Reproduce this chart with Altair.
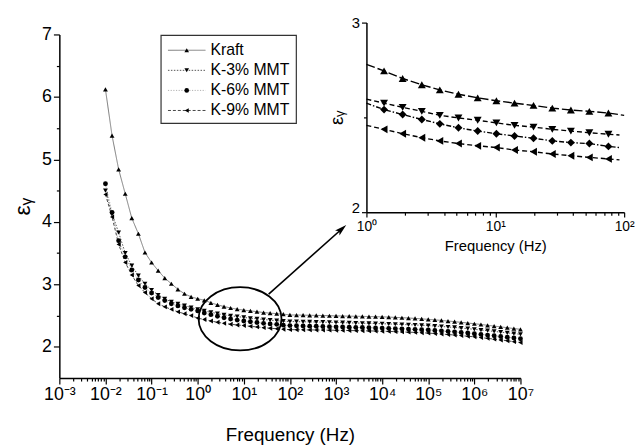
import json
import altair as alt
import pandas as pd

SERIES = ["Kraft", "K-3% MMT", "K-6% MMT", "K-9% MMT"]

# main plot: log10 of frequency (Hz)
LOG_FREQ = [-2.0, -1.857, -1.714, -1.571, -1.429, -1.286, -1.143, -1.0,
            -0.857, -0.714, -0.571, -0.429, -0.286, -0.143, 0.0,
            0.143, 0.286, 0.429, 0.571, 0.714, 0.857, 1.0,
            1.143, 1.286, 1.429, 1.571, 1.714, 1.857, 2.0,
            2.143, 2.286, 2.429, 2.571, 2.714, 2.857, 3.0,
            3.143, 3.286, 3.429, 3.571, 3.714, 3.857, 4.0,
            4.143, 4.286, 4.429, 4.571, 4.714, 4.857, 5.0,
            5.143, 5.286, 5.429, 5.571, 5.714, 5.857, 6.0,
            6.143, 6.286, 6.429, 6.571, 6.714, 6.857, 7.0]

KRAFT = [6.12, 5.38, 4.84, 4.45, 4.06, 3.81, 3.51, 3.35, 3.22, 3.10, 3.01, 2.92, 2.85, 2.80, 2.77,
         2.745, 2.705, 2.672, 2.645, 2.622, 2.603, 2.588, 2.575, 2.563, 2.549, 2.539, 2.532, 2.523, 2.511,
         2.509, 2.507, 2.505, 2.503, 2.501, 2.498, 2.495,
         2.493, 2.491, 2.489, 2.487, 2.485, 2.483, 2.480,
         2.476, 2.471, 2.466, 2.461, 2.455, 2.448, 2.440,
         2.432, 2.423, 2.413, 2.403, 2.392, 2.381, 2.370,
         2.358, 2.345, 2.332, 2.319, 2.306, 2.293, 2.280]
K3 = [4.50, 4.13, 3.83, 3.50, 3.30, 3.14, 3.01, 2.91, 2.83, 2.77, 2.72, 2.69, 2.66, 2.63, 2.60,
      2.575, 2.553, 2.532, 2.511, 2.497, 2.485, 2.471, 2.458, 2.449, 2.437, 2.428, 2.419, 2.411, 2.405,
      2.403, 2.401, 2.399, 2.397, 2.395, 2.392, 2.390,
      2.387, 2.384, 2.381, 2.378, 2.376, 2.373, 2.370,
      2.366, 2.362, 2.358, 2.354, 2.350, 2.345, 2.340,
      2.333, 2.326, 2.318, 2.310, 2.301, 2.291, 2.280,
      2.269, 2.258, 2.247, 2.235, 2.224, 2.212, 2.200]
K6 = [4.61, 4.15, 3.70, 3.44, 3.23, 3.07, 2.95, 2.86, 2.79, 2.74, 2.69, 2.655, 2.625, 2.60, 2.575,
      2.541, 2.515, 2.489, 2.466, 2.445, 2.428, 2.414, 2.402, 2.390, 2.376, 2.367, 2.360, 2.347, 2.340,
      2.337, 2.334, 2.331, 2.329, 2.326, 2.323, 2.320,
      2.317, 2.314, 2.311, 2.309, 2.306, 2.303, 2.300,
      2.296, 2.292, 2.288, 2.284, 2.280, 2.275, 2.270,
      2.263, 2.256, 2.248, 2.240, 2.231, 2.221, 2.210,
      2.199, 2.188, 2.177, 2.165, 2.154, 2.142, 2.130]
K9 = [4.44, 4.08, 3.64, 3.35, 3.15, 2.98, 2.87, 2.77, 2.69, 2.64, 2.60, 2.56, 2.53, 2.50, 2.46,
      2.437, 2.414, 2.393, 2.376, 2.362, 2.350, 2.341, 2.328, 2.319, 2.307, 2.298, 2.289, 2.281, 2.275,
      2.274, 2.272, 2.271, 2.270, 2.268, 2.267, 2.265,
      2.263, 2.261, 2.259, 2.257, 2.255, 2.253, 2.250,
      2.247, 2.243, 2.239, 2.235, 2.231, 2.226, 2.220,
      2.213, 2.205, 2.197, 2.189, 2.180, 2.170, 2.160,
      2.148, 2.136, 2.123, 2.110, 2.097, 2.083, 2.070]

# inset (1 - 100 Hz)
INSET_FREQ = [1.37, 1.91, 2.69, 3.71, 5.18, 7.3, 10.2, 14.1, 19.8, 27.7, 38.6, 53.7, 75.5]
INSET_KRAFT = [2.745, 2.705, 2.672, 2.645, 2.622, 2.603, 2.588, 2.575, 2.563, 2.549, 2.539, 2.532, 2.523]
INSET_K3 = [2.575, 2.553, 2.532, 2.511, 2.497, 2.485, 2.471, 2.458, 2.449, 2.437, 2.428, 2.419, 2.411]
INSET_K6 = [2.541, 2.515, 2.489, 2.466, 2.445, 2.428, 2.414, 2.402, 2.390, 2.376, 2.367, 2.362, 2.347]
INSET_K9 = [2.437, 2.414, 2.393, 2.376, 2.362, 2.350, 2.341, 2.328, 2.319, 2.307, 2.298, 2.289, 2.281]
INSET_LINE_START = [2.780, 2.596, 2.575, 2.458]   # line value at 1 Hz
INSET_LINE_END_F = [100, 92, 92, 92]
INSET_LINE_END = [2.511, 2.407, 2.341, 2.276]

MAIN_X_LABELS = ["10\u207b\u00b3", "10\u207b\u00b2", "10\u207b\u00b9", "10\u2070", "10\u00b9",
                 "10\u00b2", "10\u00b3", "10\u2074", "10\u2075", "10\u2076", "10\u2077"]
INSET_X_LABELS = ["10\u2070", "10\u00b9", "10\u00b2"]
Y_TITLE = "\u03b5\u1d67"
FONT = "Liberation Sans"

# ---------- data frames ----------
main_vals = [KRAFT, K3, K6, K9]
rows = []
for s, vals in zip(SERIES, main_vals):
    for i, (lf, v) in enumerate(zip(LOG_FREQ, vals)):
        rows.append({"f": 10 ** lf, "eps": v, "series": s, "i": i})
main_df = pd.DataFrame(rows)

inset_vals = [INSET_KRAFT, INSET_K3, INSET_K6, INSET_K9]
pt_rows, ln_rows = [], []
for j, (s, vals) in enumerate(zip(SERIES, inset_vals)):
    ln_rows.append({"f": 1.0, "eps": INSET_LINE_START[j], "series": s, "i": 0})
    for i, (f, v) in enumerate(zip(INSET_FREQ, vals)):
        pt_rows.append({"f": f, "eps": v, "series": s})
        ln_rows.append({"f": f, "eps": v, "series": s, "i": i + 1})
    ln_rows.append({"f": INSET_LINE_END_F[j], "eps": INSET_LINE_END[j], "series": s, "i": 99})
inset_pts = pd.DataFrame(pt_rows)
inset_lns = pd.DataFrame(ln_rows)

legend_df = pd.DataFrame({"series": SERIES, "row": [0, 1, 2, 3]})

# ---------- scales / axes ----------
MAJ = "abs(log(datum.value)/LN10 - round(log(datum.value)/LN10)) < 0.01"
INT = "abs(datum.value - round(datum.value)) < 0.01"

main_x_ticks = []
for k in range(-3, 7):
    for m in range(1, 10):
        main_x_ticks.append(float(f"{m}e{k}"))
main_x_ticks.append(1e7)

inset_x_ticks = [float(f"{m}e{k}") for k in range(0, 2) for m in range(1, 10)] + [100.0]

xs_main = alt.Scale(type="log", domain=[1e-3, 1e7], range=[0, 467])
ys_main = alt.Scale(domain=[1.5, 7], range=[370, 22])
xs_in = alt.Scale(type="log", domain=[1, 100], range=[311, 572])
ys_in = alt.Scale(domain=[2, 3], range=[202, 10])

ax_main_x = alt.Axis(
    orient="bottom", values=main_x_ticks, title="Frequency (Hz)",
    labelExpr=f"{MAJ} ? {json.dumps(MAIN_X_LABELS, ensure_ascii=False)}[round(log(datum.value)/LN10) + 3] : ''",
    tickSize={"condition": {"test": MAJ, "value": 6}, "value": 3},
    labelFontSize=18, titleFontSize=19, labelPadding=2, titlePadding=22,
    labelOverlap=False, labelFlush=False, grid=False)
ax_main_y = alt.Axis(
    orient="left", values=[2, 2.5, 3, 3.5, 4, 4.5, 5, 5.5, 6, 6.5, 7], title=Y_TITLE,
    labelExpr=f"{INT} ? format(datum.value, 'd') : ''",
    tickSize={"condition": {"test": INT, "value": 6}, "value": 3},
    labelFontSize=18, titleFontSize=23, labelPadding=2, titlePadding=7,
    labelOverlap=False, grid=False)
ax_in_x = alt.Axis(
    orient="bottom", offset=-168, values=inset_x_ticks, title="Frequency (Hz)",
    labelExpr=f"{MAJ} ? {json.dumps(INSET_X_LABELS, ensure_ascii=False)}[round(log(datum.value)/LN10)] : ''",
    tickSize={"condition": {"test": MAJ, "value": 5}, "value": 3},
    labelFontSize=14, titleFontSize=15, labelPadding=3, titlePadding=5,
    labelOverlap=False, labelFlush=False, grid=False)
ax_in_y = alt.Axis(
    orient="left", offset=-311, values=[2, 2.5, 3], title=Y_TITLE,
    labelExpr=f"{INT} ? format(datum.value, 'd') : ''",
    labelBaseline={"condition": {"test": "datum.value < 2.5", "value": "alphabetic"}, "value": "middle"},
    tickSize={"condition": {"test": INT, "value": 5}, "value": 3},
    labelFontSize=15, titleFontSize=19, labelPadding=2, titlePadding=5,
    labelOverlap=False, grid=False)

main_color = alt.Scale(domain=SERIES, range=["#7a7a7a", "#555555", "#b0b0b0", "#444444"])
main_dash = alt.Scale(domain=SERIES, range=[[1, 0], [1.5, 1.5], [1.2, 1.5], [3, 2]])
main_shape = alt.Scale(domain=SERIES, range=["triangle-up", "triangle-down", "circle", "triangle-left"])
in_dash = alt.Scale(domain=SERIES, range=[[9, 3], [5, 3], [5, 2, 1.5, 2], [5, 3]])
in_shape = alt.Scale(domain=SERIES, range=["triangle-up", "triangle-down", "diamond", "triangle-left"])

# ---------- main plot ----------
main_lines = alt.Chart(main_df).mark_line(strokeWidth=1).encode(
    x=alt.X("f:Q", scale=xs_main, axis=ax_main_x),
    y=alt.Y("eps:Q", scale=ys_main, axis=ax_main_y),
    color=alt.Color("series:N", scale=main_color, legend=None),
    strokeDash=alt.StrokeDash("series:N", scale=main_dash, legend=None),
    order="i:Q",
)
main_points = alt.Chart(main_df).mark_point(filled=True, size=24, color="black", opacity=1).encode(
    x=alt.X("f:Q", scale=xs_main, axis=ax_main_x),
    y=alt.Y("eps:Q", scale=ys_main, axis=ax_main_y),
    shape=alt.Shape("series:N", scale=main_shape, legend=None),
)
main = alt.layer(main_lines, main_points)

# ---------- inset ----------
inset_lines = alt.Chart(inset_lns).mark_line(strokeWidth=1.4, color="black").encode(
    x=alt.X("f:Q", scale=xs_in, axis=ax_in_x),
    y=alt.Y("eps:Q", scale=ys_in, axis=ax_in_y),
    detail="series:N",
    strokeDash=alt.StrokeDash("series:N", scale=in_dash, legend=None),
    order="i:Q",
)
inset_points = alt.Chart(inset_pts).mark_point(filled=True, size=64, color="black", opacity=1).encode(
    x=alt.X("f:Q", scale=xs_in, axis=ax_in_x),
    y=alt.Y("eps:Q", scale=ys_in, axis=ax_in_y),
    shape=alt.Shape("series:N", scale=in_shape, legend=None),
)
inset = alt.layer(inset_lines, inset_points)

# ---------- legend, ellipse, arrow ----------
one = pd.DataFrame({"a": [0]})
leg_y = alt.Y("row:Q", scale=alt.Scale(domain=[0, 3], range=[38, 99]), axis=None)
leg_box = alt.Chart(one).mark_rect(fill="white", stroke="#333333", strokeWidth=1.2).encode(
    x=alt.value(103), x2=alt.value(240), y=alt.value(23), y2=alt.value(112))
leg_rules = alt.Chart(legend_df).mark_rule(strokeWidth=1).encode(
    x=alt.value(110), x2=alt.value(148), y=leg_y,
    color=alt.Color("series:N", scale=main_color, legend=None),
    strokeDash=alt.StrokeDash("series:N", scale=main_dash, legend=None))
leg_pts = alt.Chart(legend_df).mark_point(filled=True, size=22, color="black", opacity=1).encode(
    x=alt.value(129), y=leg_y,
    shape=alt.Shape("series:N", scale=main_shape, legend=None))
leg_text = alt.Chart(legend_df).mark_text(align="left", baseline="middle", font=FONT, fontSize=16,
                                          color="black").encode(
    x=alt.value(153), y=leg_y, text="series:N")

ELLIPSE = ("M-1,0 C-1,-0.421 -0.552,-0.762 0,-0.762 C0.552,-0.762 1,-0.421 1,0 "
           "C1,0.421 0.552,0.762 0,0.762 C-0.552,0.762 -1,0.421 -1,0 Z")
ellipse = alt.Chart(one).mark_point(shape=ELLIPSE, size=84 * 84, filled=False, stroke="black",
                                    strokeWidth=1.8, opacity=1).encode(
    x=alt.value(183), y=alt.value(310))
arrow_line = alt.Chart(one).mark_rule(strokeWidth=1.6, color="black").encode(
    x=alt.value(212), y=alt.value(285), x2=alt.value(286), y2=alt.value(219))
ARROW = "M0,-1 L0.55,1 L0,0.55 L-0.55,1 Z"
arrow_head = alt.Chart(one).mark_point(shape=ARROW, size=150, filled=True, color="black",
                                       opacity=1, angle=48).encode(
    x=alt.value(286), y=alt.value(219))

deco = alt.layer(leg_box, leg_rules, leg_pts, leg_text, ellipse, arrow_line, arrow_head)

chart = alt.layer(main, inset, deco).resolve_scale(
    x="independent", y="independent", color="independent",
    shape="independent", strokeDash="independent",
).properties(
    width=572, height=370,
    autosize=alt.AutoSizeParams(type="none"),
    padding={"left": 52, "top": 2, "right": 12, "bottom": 66},
).configure_view(stroke=None).configure_axis(
    labelFont=FONT, titleFont=FONT, labelColor="black", titleColor="black",
    domainColor="black", tickColor="black", domainWidth=1.5, tickWidth=1.2,
    titleFontWeight="normal",
)

chart.save("out.html", embed_options={"renderer": "svg", "actions": False})
